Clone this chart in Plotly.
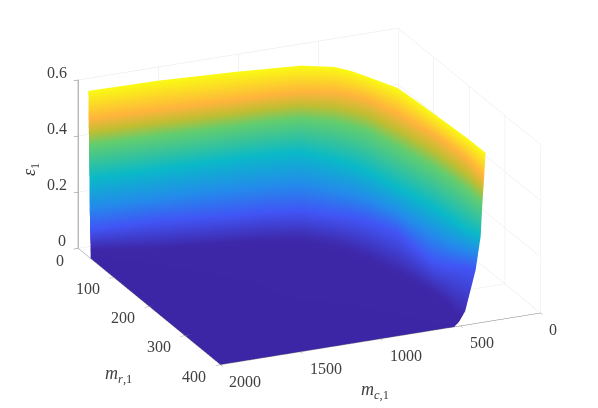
import plotly.graph_objects as go

eps_levels = [0.0, 0.015, 0.04, 0.10, 0.18, 0.28, 0.40, 0.49, 0.59]

mc_rows = [
    [2000, 2000, 2000, 2000, 2000, 2000, 1850, 1700, 1400, 1250, 1100, 950, 800, 540],
    [2000, 1641, 1203, 1046, 874, 742, 692, 642, 577, 542, 506, 483, 504, 509],
    [2000, 1635, 1178, 1008, 829, 690, 634, 584, 518, 490, 468, 451, 466, 453],
    [2000, 1595, 1138, 961, 783, 637, 561, 498, 413, 417, 415, 352, 277, 243],
    [2000, 1592, 1115, 938, 753, 621, 558, 501, 430, 407, 385, 355, 307, 265],
    [2000, 1587, 1097, 917, 729, 602, 546, 503, 450, 415, 387, 370, 354, 325],
    [2000, 1585, 1102, 919, 727, 575, 512, 456, 397, 368, 340, 323, 313, 314],
    [2000, 1581, 1097, 914, 723, 551, 481, 418, 353, 324, 296, 285, 276, 308],
    [2000, 1576, 1099, 922, 730, 565, 502, 452, 367, 352, 343, 332, 323, 321],
]
mr_rows = [
    [35, 100, 200, 250, 300, 400, 400, 400, 400, 400, 400, 400, 400, 400],
    [35, 60, 89, 103, 118, 151, 176, 201, 255, 290, 324, 361, 388, 400],
    [34, 58, 77, 86, 98, 128, 150, 175, 230, 268, 307, 347, 371, 392],
    [33, 40, 60, 65, 77, 105, 118, 137, 183, 235, 284, 304, 317, 327],
    [32, 39, 49, 55, 64, 97, 116, 138, 190, 231, 271, 305, 330, 344],
    [31, 36, 41, 45, 53, 89, 111, 139, 199, 234, 271, 311, 351, 378],
    [30, 36, 44, 46, 52, 77, 96, 118, 176, 214, 251, 290, 333, 378],
    [29, 34, 42, 44, 50, 66, 83, 102, 156, 194, 231, 274, 317, 380],
    [28, 31, 42, 48, 54, 73, 92, 117, 163, 206, 252, 295, 338, 390],
]
x_ticks = [0, 500, 1000, 1500, 2000]
y_ticks = [0, 100, 200, 300, 400]
z_ticks = [0, 0.2, 0.4, 0.6]
z_tick_text = ["0", "0.2", "0.4", "0.6"]

colors = [
    [0.0, "rgb(60,38,165)"], [0.05, "rgb(62,40,170)"], [0.17, "rgb(65,85,245)"],
    [0.305, "rgb(35,140,235)"], [0.475, "rgb(10,185,200)"], [0.68, "rgb(100,205,110)"],
    [0.754, "rgb(190,190,50)"], [0.83, "rgb(255,180,60)"], [0.915, "rgb(252,215,40)"],
    [1.0, "rgb(250,250,20)"],
]

z_rows = [[lv] * len(mc_rows[0]) for lv in eps_levels]

fig = go.Figure(go.Surface(
    x=mc_rows, y=mr_rows, z=z_rows, surfacecolor=z_rows,
    colorscale=colors, cmin=0, cmax=0.59, showscale=False,
    lighting=dict(ambient=1, diffuse=0, specular=0, fresnel=0, roughness=1),
    contours=dict(x=dict(highlight=False), y=dict(highlight=False), z=dict(highlight=False)),
    hoverinfo="skip",
))

FONT = "Liberation Serif"
TXT = "#404040"
axis = dict(
    showbackground=False, showspikes=False, title=dict(text=""),
    gridcolor="#e6e6e6", gridwidth=1, zeroline=False,
    showline=True, linecolor="#808080", linewidth=1,
    ticks="outside", ticklen=5, tickcolor="#808080", showticklabels=False,
)


def tick_label(text, x, y, z, dx, dy):
    return dict(text=text, x=x, y=y, z=z, xshift=dx, yshift=-dy, showarrow=False,
                xanchor="center", yanchor="middle",
                font=dict(family=FONT, size=16, color=TXT))


x_dx = {0: 13, 500: 22, 1000: 26, 1500: 26, 2000: 25}
tick_annotations = (
    [tick_label(str(v), v, 400, 0, x_dx[v], 16) for v in x_ticks]
    + [tick_label(str(v), 2000, v, 0, -18 if v == 0 else -26, 12 if v == 0 else 11) for v in y_ticks]
    + [tick_label(t, 2000, 0, v, -16 if v == 0 else -21, -8) for v, t in zip(z_ticks, z_tick_text)]
)

fig.update_layout(
    width=598, height=408,
    margin=dict(l=0, r=0, t=0, b=0),
    paper_bgcolor="white",
    scene=dict(
        domain=dict(x=[0.035, 1], y=[0.036, 1]),
        xaxis=dict(axis, range=[0, 2000], tickvals=x_ticks),
        yaxis=dict(axis, range=[0, 400], tickvals=y_ticks),
        zaxis=dict(axis, range=[0, 0.6], tickvals=z_ticks, linewidth=2),
        aspectmode="manual",
        aspectratio=dict(x=1.782, y=1.782, z=0.92),
        camera=dict(
            projection=dict(type="orthographic"),
            up=dict(x=0, y=0, z=1),
            center=dict(x=-0.038, y=0.0165, z=-0.044),
            eye=dict(x=0.655, y=1.575, z=0.622),
        ),
        annotations=tick_annotations,
    ),
    annotations=[
        dict(text="<i>m</i><sub><i>c</i>,1</sub>", x=367/598, y=1-382/408, xref="paper", yref="paper",
             xanchor="center", yanchor="middle", showarrow=False, font=dict(family=FONT, size=18, color=TXT)),
        dict(text="<i>m</i><sub><i>r</i>,1</sub>", x=111/598, y=1-366/408, xref="paper", yref="paper",
             xanchor="center", yanchor="middle", showarrow=False, font=dict(family=FONT, size=18, color=TXT)),
        dict(text="<i>ε</i><sub>1</sub>", x=23/598, y=1-162/408, xref="paper", yref="paper",
             xanchor="center", yanchor="middle", showarrow=False, textangle=-90, font=dict(family=FONT, size=18, color=TXT)),
    ],
)
fig.write_html("out.html")
